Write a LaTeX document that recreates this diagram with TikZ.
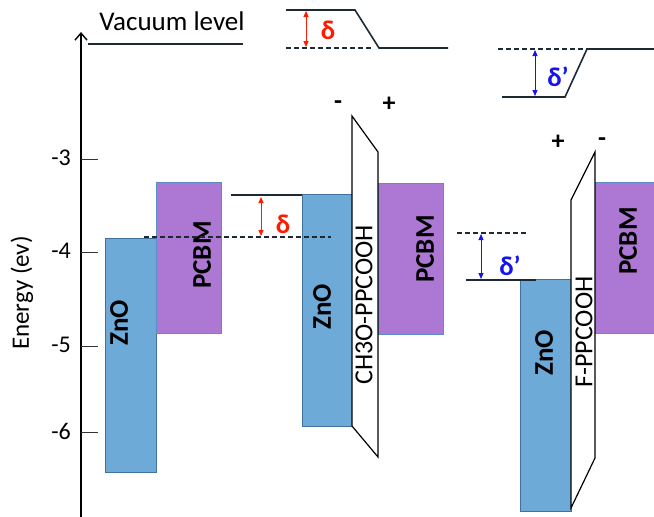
\documentclass[tikz,border=0pt]{standalone}
\usepackage{fontspec}
\setmainfont{Carlito}
\usetikzlibrary{arrows.meta}
\definecolor{znofill}{HTML}{6DAAD8}
\definecolor{znoline}{HTML}{41719C}
\definecolor{pcbmfill}{HTML}{AD78D4}
\definecolor{pcbmline}{HTML}{5B8DC8}
\definecolor{dred}{HTML}{FF1A00}
\definecolor{dblue}{HTML}{1414F0}
\definecolor{lvl}{HTML}{1E2A33}
\begin{document}
\begin{tikzpicture}[x=1pt,y=-1pt,
  zno/.style={draw=znoline,fill=znofill,line width=1pt,inner sep=0pt,outer sep=0pt,anchor=north west},
  pcbm/.style={draw=pcbmline,fill=pcbmfill,line width=0.8pt,inner sep=0pt,outer sep=0pt,anchor=north west},
  layer/.style={draw=black,fill=white,line width=1.2pt,line join=miter},
  level/.style={draw=lvl,line width=1.6pt},
  dlevel/.style={draw=lvl,line width=1.4pt,dash pattern=on 5pt off 3pt},
  redarr/.style={draw=dred,line width=1pt,{Triangle[length=6pt,width=5pt]}-{Triangle[length=6pt,width=5pt]}},
  bluearr/.style={draw=dblue,line width=1pt,{Triangle[length=6pt,width=5pt]}-{Triangle[length=6pt,width=5pt]}},
  blbl/.style={font=\fontsize{27}{27}\selectfont\bfseries,inner sep=0pt},
  rlbl/.style={font=\fontsize{25}{25}\selectfont,inner sep=0pt},
  tlbl/.style={font=\fontsize{24}{24}\selectfont,inner sep=0pt,anchor=east},
  dlt/.style={font=\fontsize{27}{27}\selectfont\bfseries,inner sep=0pt},
  chg/.style={font=\fontsize{26}{26}\selectfont\bfseries,inner sep=0pt},
  tick/.style={draw=black!80,line width=1pt}
]
\useasboundingbox (0,0) rectangle (654,517);

% axis
\coordinate (axb) at (81,519);
\coordinate (axt) at (81,32);
\draw[line width=2.6pt,-{Straight Barb[length=7pt,width=12pt,line width=1.4pt]}] (axb) -- (axt);
\foreach \yy/\lab [count=\i] in {159/-3,252/-4,346/-5,432/-6,517/} {
  \coordinate (tk\i) at (81,\yy);
  \coordinate (te\i) at (98,\yy);
  \draw[tick] (tk\i) -- (te\i);
  \node[tlbl] (tl\i) at (71,\yy-1) {\lab};
}
\node[rlbl,rotate=90] (elab) at (22,293) {Energy (ev)};

% vacuum levels
\coordinate (v1a) at (88,44);
\coordinate (v1b) at (243,44);
\draw[level] (v1a) -- (v1b);
\node[rlbl,font=\fontsize{27}{27}\selectfont] (vac) at (172,21) {Vacuum level};

\coordinate (v2a) at (286,10);
\coordinate (v2b) at (355,10);
\coordinate (v2c) at (379,48);
\coordinate (v2d) at (448,48);
\coordinate (v2e) at (286,48);
\coordinate (v2f) at (373,48);
\draw[level,line join=miter] (v2a) -- (v2b) -- (v2c) -- (v2d);
\draw[dlevel] (v2e) -- (v2f);
\coordinate (r1a) at (306,11);
\coordinate (r1b) at (306,47);
\draw[redarr] (r1a) -- (r1b);
\node[dlt,text=dred] (d1) at (328,30) {δ};
\node[chg] (m1) at (338,105) {-};
\node[chg] (p1) at (389,104) {+};

\coordinate (v3a) at (498,49);
\coordinate (v3b) at (587,49);
\coordinate (v3c) at (654,49);
\coordinate (v3d) at (565,97);
\coordinate (v3e) at (502,97);
\draw[dlevel] (v3a) -- (v3b);
\draw[level,line join=miter] (v3c) -- (v3b) -- (v3d) -- (v3e);
\coordinate (b1a) at (535,50);
\coordinate (b1b) at (535,96);
\draw[bluearr] (b1a) -- (b1b);
\node[dlt,text=dblue] (d2) at (558,77) {δ’};
\node[chg] (p2) at (558,142) {+};
\node[chg] (m2) at (602,142) {-};

% left stack
\node[zno,minimum width=51pt,minimum height=234pt] (zno1) at (105,238) {};
\node[pcbm,minimum width=65pt,minimum height=151pt] (pcbm1) at (156,182) {};
\node[blbl,rotate=90] (tz1) at (119,323) {ZnO};
\node[blbl,rotate=90] (tp1) at (202,255) {PCBM};

% middle stack
\node[zno,minimum width=50pt,minimum height=232pt] (zno2) at (302,194) {};
\node[pcbm,minimum width=65pt,minimum height=151pt] (pcbm2) at (378,183) {};
\coordinate (la1) at (352,116);
\coordinate (la2) at (378,152);
\coordinate (la3) at (378,457);
\coordinate (la4) at (352,426);
\draw[layer] (la1) -- (la2) -- (la3) -- (la4) -- cycle;
\node[blbl,rotate=90] (tz2) at (322,307) {ZnO};
\node[rlbl,font=\fontsize{26}{26}\selectfont,rotate=90] (tl2) at (364,305) {CH3O-PPCOOH};
\node[blbl,rotate=90] (tp2) at (425,249) {PCBM};

\coordinate (s1a) at (144,237);
\coordinate (s1b) at (331,237);
\draw[dlevel] (s1a) -- (s1b);
\coordinate (s2a) at (231,195);
\coordinate (s2b) at (302,195);
\draw[level] (s2a) -- (s2b);
\coordinate (r2a) at (261,197);
\coordinate (r2b) at (261,236);
\draw[redarr] (r2a) -- (r2b);
\node[dlt,text=dred] (d3) at (283,224) {δ};

% right stack
\node[zno,minimum width=51pt,minimum height=232pt] (zno3) at (520,279) {};
\node[pcbm,minimum width=75pt,minimum height=151pt] (pcbm3) at (595,182) {};
\coordinate (lb1) at (571,200);
\coordinate (lb2) at (595,152);
\coordinate (lb3) at (595,458);
\coordinate (lb4) at (571,508);
\draw[layer] (lb1) -- (lb2) -- (lb3) -- (lb4) -- cycle;
\node[blbl,rotate=90] (tz3) at (544,353) {ZnO};
\node[rlbl,font=\fontsize{26}{26}\selectfont,rotate=90] (tl3) at (584,332) {F-PPCOOH};
\node[blbl,rotate=90] (tp3) at (628,241) {PCBM};

\coordinate (s3a) at (457,233);
\coordinate (s3b) at (527,233);
\draw[dlevel] (s3a) -- (s3b);
\coordinate (s4a) at (466,280);
\coordinate (s4b) at (536,280);
\draw[level] (s4a) -- (s4b);
\coordinate (b2a) at (481,234);
\coordinate (b2b) at (481,279);
\draw[bluearr] (b2a) -- (b2b);
\node[dlt,text=dblue] (d4) at (510,266) {δ’};
\end{tikzpicture}
\end{document}
